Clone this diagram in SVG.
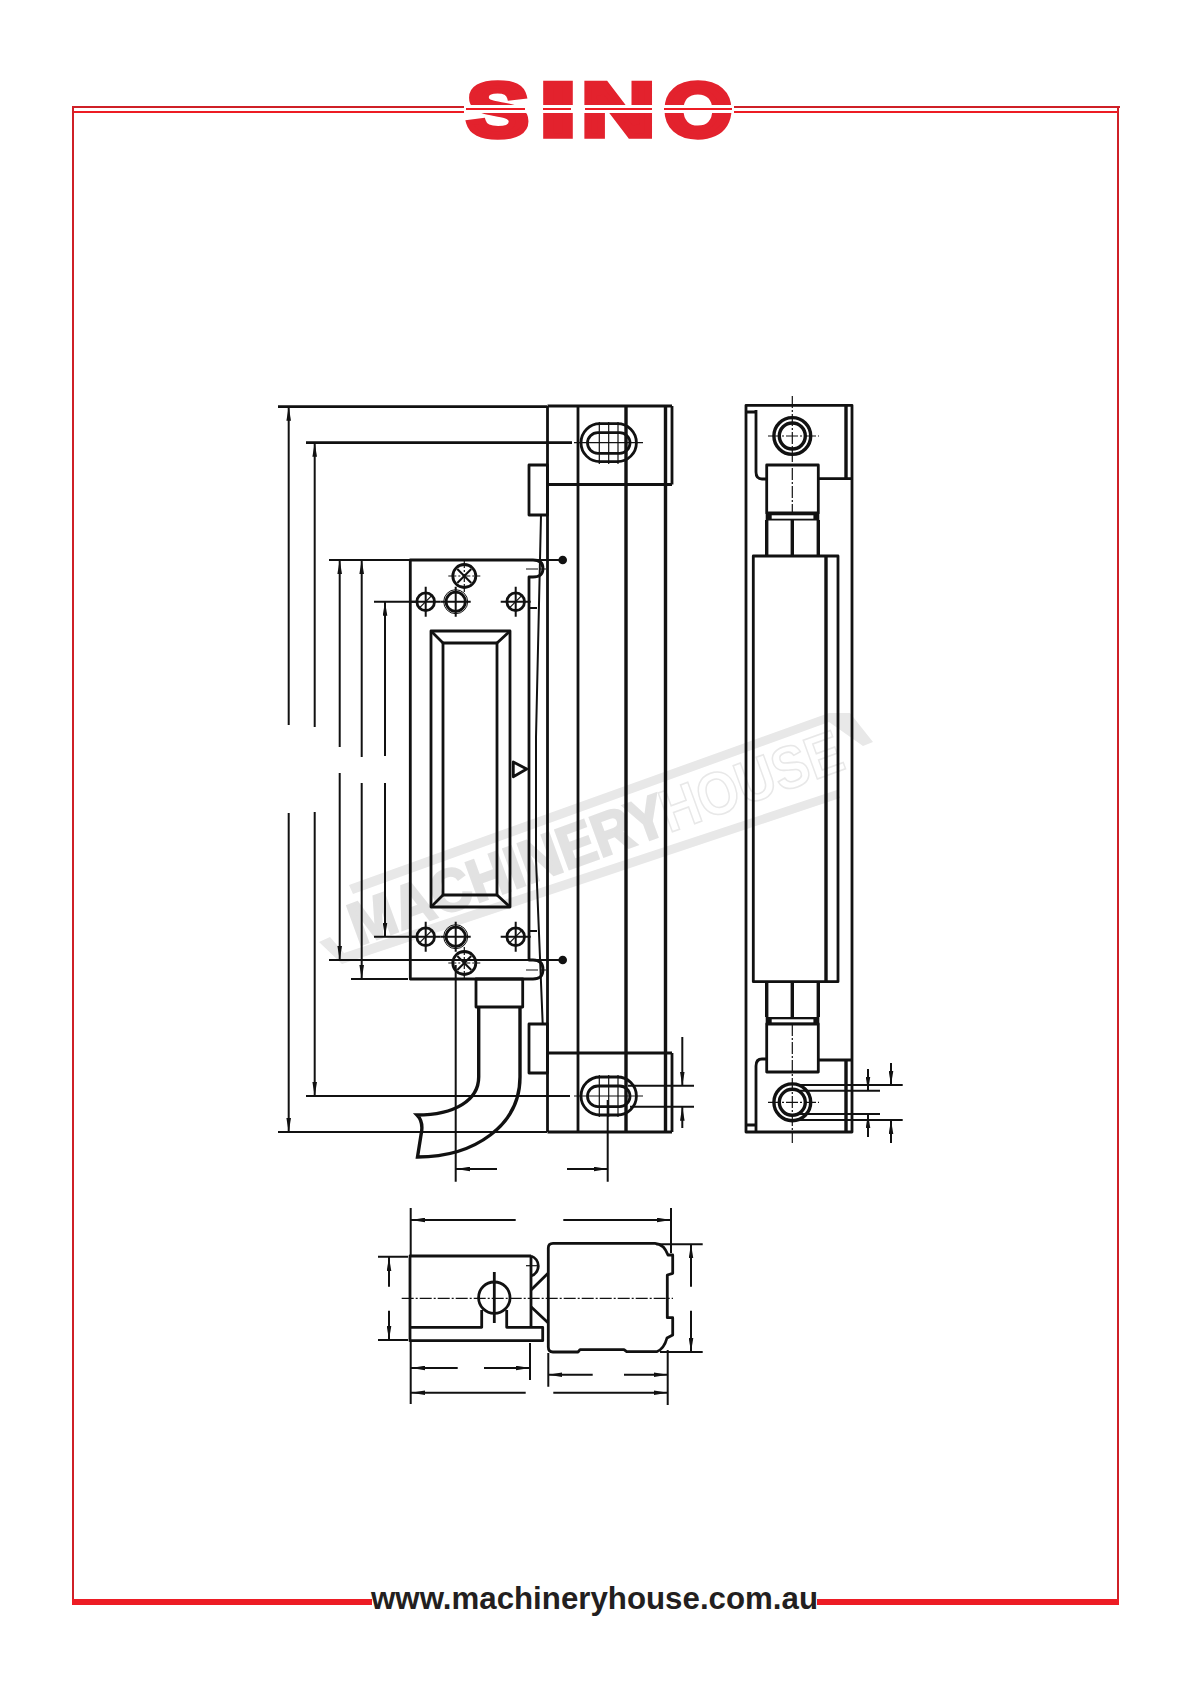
<svg xmlns="http://www.w3.org/2000/svg" width="1192" height="1685" viewBox="0 0 1192 1685">
<style>
.o{fill:none;stroke:#111;stroke-width:2.8;stroke-linejoin:round}
.h{fill:none;stroke:#111;stroke-width:3.4}
.t{fill:none;stroke:#111;stroke-width:2}
.f{fill:none;stroke:#111;stroke-width:1.2}
.c{fill:none;stroke:#111;stroke-width:1.2;stroke-dasharray:12 2 2 2}
.a{marker-end:url(#ar)}
.logo{font-family:"Liberation Sans",Arial,sans-serif;font-weight:700;font-size:76px;fill:#e3222d;stroke:#e3222d;stroke-width:5.5;stroke-linejoin:miter}
.red{fill:#ed1c24}
.dk{fill:#cf2027}
.wm{font-family:"Liberation Sans",Arial,sans-serif;font-size:60px;font-weight:700}
</style>
<defs>
<marker id="ar" markerUnits="userSpaceOnUse" viewBox="0 0 14 5" refX="14" refY="2.5" markerWidth="14" markerHeight="5" orient="auto"><polygon points="0,0.2 14,2.5 0,4.8" fill="#111"/></marker>
<g id="big"><circle r="11.5" fill="#fff" stroke="#111" stroke-width="2.8"/><path d="M-16 0H16M0-16V16" class="f" stroke-dasharray="8 2 2 2"/><path d="M-7-7L7 7M-7 7L7-7" class="t"/></g>
<g id="sm"><circle r="8.8" fill="#fff" stroke="#111" stroke-width="2.8"/><path d="M-15 0H15M0-15V15" class="t"/><path d="M-6 6L6-6" class="f"/></g>
<g id="ring"><circle r="12" fill="#fff" stroke="#111" stroke-width="1"/><circle r="9.6" fill="#fff" stroke="#111" stroke-width="2.8"/><path d="M-15 0H15M0-15V15" class="t"/></g>
</defs>
<rect width="1192" height="1685" fill="#fff"/>

<g id="watermark">
<path d="M349 885L829 713L850 713L873 742L863 746L829 722L353 894Z" fill="#e8e8e8"/>
<path d="M319 942L330 937L344 953L837 790L840 798L342 964Z" fill="#e8e8e8"/>
<text class="wm" transform="translate(358 946) rotate(-20)" fill="#e2e2e2" stroke="#e2e2e2" stroke-width="2.5" textLength="333" lengthAdjust="spacingAndGlyphs">MACHINERY</text>
<text class="wm" transform="translate(669 833) rotate(-20)" fill="#fff" stroke="#e8e8e8" stroke-width="1.6" textLength="190" lengthAdjust="spacingAndGlyphs">HOUSE</text>
</g>

<g id="frame">
<path class="dk" d="M72 106H466V108H74V1600H72Z"/>
<rect class="dk" x="732" y="106" width="388" height="2"/>
<rect class="dk" x="1117" y="106" width="2" height="1494"/>
<rect class="red" x="74" y="111" width="392" height="2"/>
<rect class="red" x="732" y="111" width="386" height="2"/>
<rect class="red" x="72" y="1599" width="300" height="6"/>
<rect class="red" x="817" y="1599" width="302" height="6"/>
</g>

<g id="logo">
<text class="logo" x="466.7" y="136" textLength="62" lengthAdjust="spacingAndGlyphs">S</text>
<text class="logo" x="539" y="136" textLength="38" lengthAdjust="spacingAndGlyphs">I</text>
<text class="logo" x="581.3" y="136" textLength="74" lengthAdjust="spacingAndGlyphs">N</text>
<text class="logo" x="664" y="136" textLength="68" lengthAdjust="spacingAndGlyphs">O</text>
<rect x="464" y="105" width="270" height="8" fill="#fff"/>
<rect x="466" y="108" width="59" height="2" class="red"/>
<rect x="543" y="108" width="28" height="2" class="red"/>
<rect x="585" y="108" width="67" height="2" class="red"/>
<rect x="664" y="108" width="68" height="2" class="red"/>
</g>

<text id="website" x="371" y="1609" font-family="'Liberation Sans',Arial,sans-serif" font-weight="700" font-size="32" fill="#231f20" textLength="447" lengthAdjust="spacingAndGlyphs">www.machineryhouse.com.au</text>

<g id="rail">
<path class="o" d="M547.5 406V1132M578 406V1132M672 406V484.5M672 1053V1132M547.5 406H672M547.5 484.5H672M547.5 1053H672M547.5 1132H672"/>
<path class="h" d="M626 406V1132M665.5 406V1132"/>
<rect class="o" x="529" y="465" width="18.5" height="50"/>
<rect class="o" x="529" y="1024" width="18.5" height="49"/>
<path class="t" d="M541 515L536 737V860L542.7 1024"/>
<rect class="o" x="581" y="423.7" width="55.4" height="38" rx="19" fill="#fff"/>
<rect class="o" x="587.5" y="432.7" width="42.5" height="20.6" rx="10.3" stroke-width="3"/>
<rect class="o" x="581" y="1077" width="55.4" height="38" rx="19" fill="#fff"/>
<rect class="o" x="587.5" y="1086" width="42.5" height="20.6" rx="10.3" stroke-width="3"/>
<path class="f" d="M599.3 422V464M608.7 422V464M618 422V464M574 442.7H643M599.3 1075V1117M608.7 1075V1117M618 1075V1117M574 1096H643"/>
</g>

<g id="head">
<path class="o" d="M410.3 560H533Q543 560 543 568.5Q543 577 533 577H529V960H533Q543 960 543 969.5Q543 979 533 979H410.3Z"/>
<path class="t" d="M529 608H537M529 931H537"/>
<path class="c" d="M526 569H546M526 970H546"/>
<rect class="o" x="431" y="631" width="79" height="276"/>
<rect class="o" x="443" y="643" width="54" height="252"/>
<path class="o" d="M431 631L443 643M510 631L497 643M431 907L443 895M510 907L497 895"/>
<path class="o" d="M513.3 762L526.7 769L513.3 776.7Z"/>
<use href="#big" x="464.3" y="576"/>
<use href="#sm" x="425.7" y="601.7"/>
<use href="#ring" x="455.7" y="601.7"/>
<use href="#sm" x="515.7" y="601.7"/>
<use href="#sm" x="425.7" y="936.7"/>
<use href="#ring" x="455.7" y="936.7"/>
<use href="#sm" x="515.7" y="936.7"/>
<use href="#big" x="464.3" y="963"/>
</g>

<g id="cable">
<rect class="o" x="476" y="979" width="46.7" height="28"/>
<path class="h" d="M478.7 1007V1077C478.7 1100 455 1115 417 1115Q424 1122 421 1135L417.5 1157C475 1157 520 1125 520 1077V1007"/>
</g>

<g id="side-view">
<path class="o" d="M746 405.3H852V1132H746Z"/>
<path class="o" d="M746 412H755.5M746 1125H755.5"/>
<path class="o" d="M756 410V472Q756 479 762 479H766.7M818.3 478.7H852M756 1131V1066Q756 1059 762 1059H766.7M818.3 1060H852"/>
<path class="h" d="M846 405.3V478M846 1060V1132"/>
<rect class="o" x="766.7" y="465" width="51.6" height="48"/>
<rect x="765.7" y="513" width="53.6" height="7.5" fill="#111"/>
<rect x="771.7" y="515.3" width="41.7" height="3.4" fill="#fff"/>
<path class="h" d="M766.7 520V556M818.3 520V556M792.3 520V556M766.7 982V1017M818.3 982V1017M792.3 982V1017"/>
<rect class="o" x="753.3" y="556" width="84.7" height="425.7"/>
<path class="h" d="M826 556V981.7"/>
<rect x="765.7" y="1017" width="53.6" height="7.5" fill="#111"/>
<rect x="771.7" y="1019.3" width="41.7" height="3.4" fill="#fff"/>
<rect class="o" x="766.7" y="1024" width="51.6" height="48"/>
<circle cx="792.3" cy="436" r="18.4" class="h"/>
<circle cx="792.3" cy="436" r="13" class="h"/>
<circle cx="792.3" cy="1102.3" r="18.4" class="h"/>
<circle cx="792.3" cy="1102.3" r="13" class="h"/>
<path class="c" d="M792.3 396V513M768 436H819M792.3 1024V1143M768 1102.3H819"/>
</g>

<g id="end-view">
<path class="o" d="M531 1256H410V1340.7H542.7V1327.3H506.7V1310M481.7 1310V1327.3H410M531 1256V1327.3"/>
<path class="o" d="M531 1256A10.5 10.5 0 0 1 531 1276"/>
<path class="o" d="M531 1290L548.3 1273M531 1306.7L548.3 1323"/>
<circle class="o" cx="494.3" cy="1297.7" r="15.7"/>
<path class="o" d="M494.3 1272V1323"/>
<path class="f" d="M526 1265.7H537"/>
<path class="o" d="M553 1243.3H655Q664 1244 668 1255H672.7V1273.3L667.3 1275V1317.7H672.7V1335L667 1338Q664 1349 656.7 1351.7H626.7L624 1349.7H580L578 1352H553Q548.3 1352 548.3 1347V1248Q548.3 1243.3 553 1243.3Z"/>
<path class="c" d="M401.7 1298.3H673"/>
</g>

<g id="dimensions">
<path class="o" d="M278 406.7H547M306 442.7H572"/>
<path class="t" d="M329 560H410M533 560H559M374 601.7H417M329 960H559M374 936.7H417M306 1096H570M278 1132H547M351 979H408"/>
<circle cx="562.7" cy="560" r="4.3" fill="#111"/>
<circle cx="562.7" cy="960" r="4.3" fill="#111"/>
<path class="t a" d="M288.7 725V406.7"/><path class="t a" d="M288.7 813V1132"/>
<path class="t a" d="M314.7 727V442.7"/><path class="t a" d="M314.7 812V1096"/>
<path class="t a" d="M339.7 747V560"/><path class="t a" d="M339.7 773V960"/>
<path class="t a" d="M361.7 757V560"/><path class="t a" d="M361.7 783V979"/>
<path class="t a" d="M385 756V601.7"/><path class="t a" d="M385 783V936.7"/>
<path class="t" d="M455.7 965V1181.7M607.7 1100V1181.7"/>
<path class="t a" d="M497 1169H456"/><path class="t a" d="M567 1169H607.7"/>
<path class="t" d="M628 1085.7H694M630 1106.7H694"/>
<path class="t a" d="M682.3 1037V1085.7"/><path class="t a" d="M682.3 1128V1106.7"/>
<path class="t" d="M800 1085H902.7M800 1090.7H880M800 1114H880M800 1120H902.7"/>
<path class="t a" d="M868 1069V1090.7"/><path class="t a" d="M891 1063V1085"/>
<path class="t a" d="M868 1137V1114"/><path class="t a" d="M891 1143V1120"/>
<path class="t" d="M410.7 1208V1255M410.7 1341V1404M671 1208V1253M378 1256.7H408M378 1340H408M656 1244.3H702.7M660 1352H702.7M530 1343V1380M548.3 1353V1386.7M667.7 1350V1405"/>
<path class="t a" d="M515.7 1220H411"/><path class="t a" d="M563.3 1220H671"/>
<path class="t a" d="M389 1286.7V1257"/><path class="t a" d="M389 1310.7V1340"/>
<path class="t a" d="M691 1286.7V1244.3"/><path class="t a" d="M691 1310.7V1352"/>
<path class="t a" d="M457.7 1368H411"/><path class="t a" d="M484 1368H530"/>
<path class="t a" d="M525.7 1392.7H411"/><path class="t a" d="M553.3 1392.7H667.7"/>
<path class="t a" d="M592.7 1374.7H548.3"/><path class="t a" d="M624 1374.7H667.7"/>
</g>
</svg>
